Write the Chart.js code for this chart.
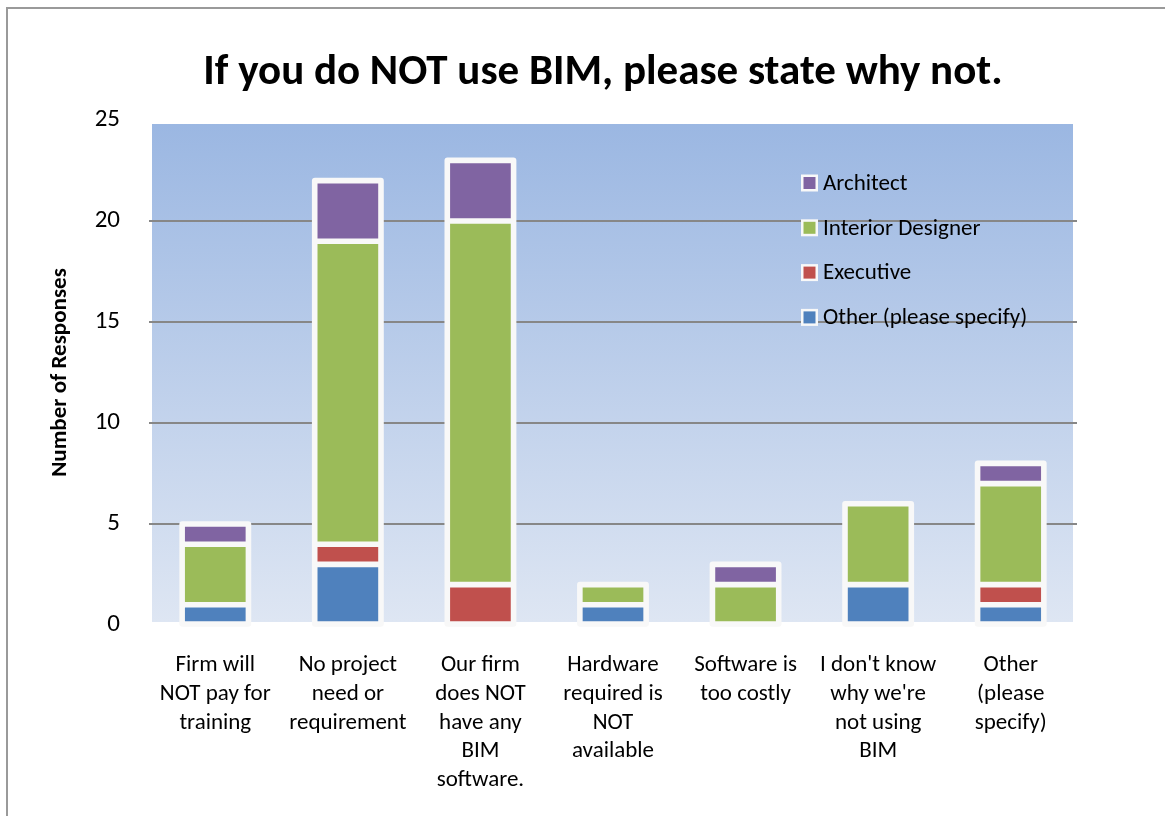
<!DOCTYPE html>
<html>
<head>
<meta charset="utf-8">
<script src="https://cdn.jsdelivr.net/npm/chart.js@4/dist/chart.umd.min.js"></script>
<style>
  html, body { margin: 0; padding: 0; background: #fff; overflow: hidden; width: 1165px; height: 816px; }
  #frame { position: absolute; left: 6px; top: 7px; width: 1300px; height: 1000px; border: 2px solid #9a9a9a; box-sizing: border-box; }
  #c { position: absolute; left: 0; top: 0; }
</style>
</head>
<body>
<div id="frame"></div>
<canvas id="c" width="1165" height="816"></canvas>
<script>
// ---- data ----
const chartTitle = "If you do NOT use BIM, please state why not.";
const categories = [
  ["Firm will", "NOT pay for", "training"],
  ["No project", "need or", "requirement"],
  ["Our firm", "does NOT", "have any", "BIM", "software."],
  ["Hardware", "required is", "NOT", "available"],
  ["Software is", "too costly"],
  ["I don't know", "why we're", "not using", "BIM"],
  ["Other", "(please", "specify)"]
];
const otherValues     = [1, 3, 0, 1, 0, 2, 1];
const executiveValues = [0, 1, 2, 0, 0, 0, 1];
const interiorValues  = [3, 15, 18, 1, 2, 4, 5];
const architectValues = [1, 3, 3, 0, 1, 0, 1];
const seriesNames = ["Other (please specify)", "Executive", "Interior Designer", "Architect"];
const seriesColors = ["#4F81BD", "#C0504D", "#9BBB59", "#8064A2"];
const yTicks = [0, 5, 10, 15, 20, 25];

const FONT = "Carlito, Lato, 'Open Sans', sans-serif";
const EDGE = "#f8f8f8";
const BW = 2.8;

const toNull = a => a.map(v => v === 0 ? null : v);
const seriesData = [otherValues, executiveValues, interiorValues, architectValues];

const bgPlugin = {
  id: 'plotBg',
  beforeDraw(chart) {
    const {ctx, chartArea: a} = chart;
    const t = a.top + 4, b = a.bottom - 3, l = a.left + 3, r = a.right - 4;
    const g = ctx.createLinearGradient(0, t, 0, b);
    g.addColorStop(0, '#9BB7E2');
    g.addColorStop(1, '#DEE6F3');
    ctx.save();
    ctx.fillStyle = g;
    ctx.fillRect(l, t, r - l, b - t);
    ctx.restore();
  }
};

const titlePlugin = {
  id: 'centredTitle',
  afterDraw(chart) {
    const ctx = chart.ctx;
    ctx.save();
    ctx.font = "bold 43px " + FONT;
    ctx.fillStyle = '#000';
    ctx.textAlign = 'center';
    ctx.textBaseline = 'alphabetic';
    ctx.fillText(chartTitle, 603, 84);
    ctx.restore();
  }
};

const framePlugin = {
  id: 'stackFrame',
  beforeDatasetsDraw(chart) {
    const ctx = chart.ctx;
    const n = chart.data.labels.length;
    ctx.save();
    ctx.fillStyle = EDGE;
    for (let i = 0; i < n; i++) {
      let top = Infinity, bottom = -Infinity, x = null, w = null;
      chart.data.datasets.forEach((ds, di) => {
        if (ds.data[i] == null) return;
        const el = chart.getDatasetMeta(di).data[i];
        if (!el) return;
        top = Math.min(top, el.y, el.base);
        bottom = Math.max(bottom, el.y, el.base);
        x = el.x; w = el.width;
      });
      if (x === null) continue;
      const L = x - w / 2 - BW, T = top - BW, W = w + 2 * BW, H = bottom - top + 2 * BW;
      ctx.beginPath();
      if (ctx.roundRect) ctx.roundRect(L, T, W, H, 3); else ctx.rect(L, T, W, H);
      ctx.fill();
    }
    ctx.restore();
  }
};

const legendPlugin = {
  id: 'insideLegend',
  afterDatasetsDraw(chart) {
    const ctx = chart.ctx;
    const ds = chart.data.datasets.slice().reverse();
    const x0 = 801, y0 = 183, step = 44.8;
    ctx.save();
    ctx.font = "23px " + FONT;
    ctx.textBaseline = 'middle';
    ds.forEach((d, i) => {
      const y = y0 + i * step;
      ctx.fillStyle = EDGE;
      ctx.fillRect(x0, y - 8.5, 17, 17);
      ctx.fillStyle = d.backgroundColor;
      ctx.fillRect(x0 + 2.5, y - 6, 12, 12);
      ctx.fillStyle = '#000';
      ctx.fillText(d.label, x0 + 22, y + 1);
    });
    ctx.restore();
  }
};

new Chart(document.getElementById('c'), {
  type: 'bar',
  data: {
    labels: categories,
    datasets: seriesNames.map((name, i) => ({
      label: name,
      data: toNull(seriesData[i]),
      backgroundColor: seriesColors[i],
      borderColor: EDGE,
      borderWidth: BW,
      borderSkipped: false,
      categoryPercentage: 1,
      barPercentage: 0.5
    }))
  },
  options: {
    responsive: false,
    animation: false,
    devicePixelRatio: 1,
    layout: { padding: { left: 0, right: 88, top: 120, bottom: 0 } },
    plugins: {
      legend: { display: false },
      tooltip: { enabled: false },
      title: { display: false }
    },
    scales: {
      x: {
        stacked: true,
        grid: { display: false, drawTicks: false },
        border: { display: false },
        ticks: {
          color: '#000',
          font: { family: FONT, size: 23, lineHeight: 1.25 },
          padding: 26,
          autoSkip: false,
          maxRotation: 0,
          minRotation: 0
        },
        afterFit(s) { s.height = 816 - 625; }
      },
      y: {
        stacked: true,
        min: 0,
        max: 25,
        afterBuildTicks(s) { s.ticks = yTicks.map(v => ({ value: v })); },
        grid: {
          drawTicks: false,
          color: c => (c.tick && (c.tick.value === 0 || c.tick.value === 25)) ? 'rgba(0,0,0,0)' : '#878787',
          lineWidth: 2
        },
        border: { display: false },
        ticks: {
          color: '#000',
          font: { family: FONT, size: 25 },
          padding: 29
        },
        title: {
          display: true,
          text: 'Number of Responses',
          color: '#000',
          font: { family: FONT, size: 23, weight: 'bold', lineHeight: 1.2 },
          padding: { top: 46, bottom: 0 }
        },
        afterFit(s) { s.width = 149; }
      }
    }
  },
  plugins: [bgPlugin, framePlugin, legendPlugin, titlePlugin]
});
</script>
</body>
</html>
